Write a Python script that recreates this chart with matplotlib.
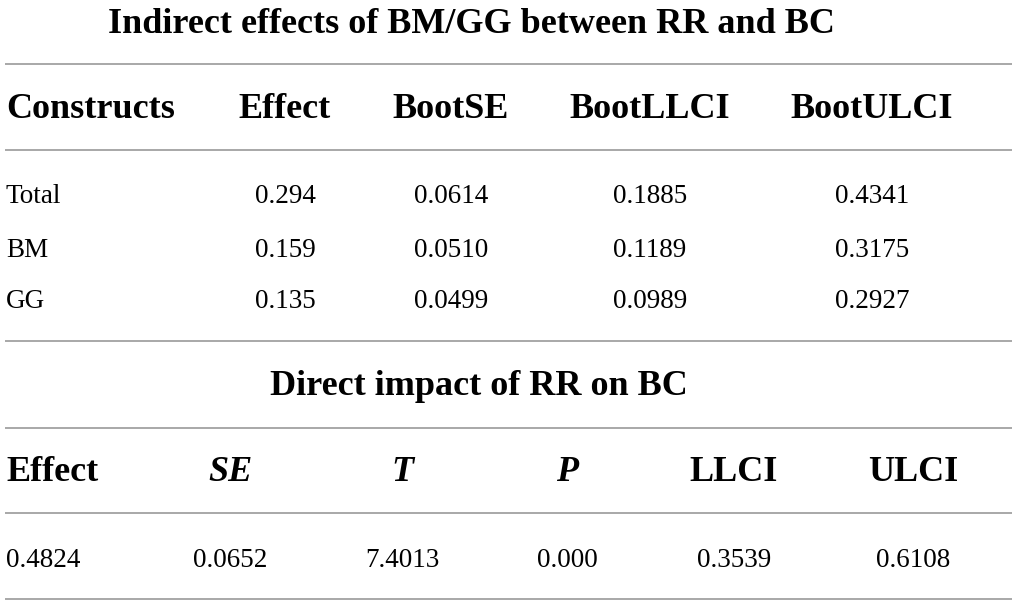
import matplotlib.pyplot as plt

# table 1: indirect effects
title_1 = "Indirect effects of BM/GG between RR and BC"
headers_1 = ["Constructs", "Effect", "BootSE", "BootLLCI", "BootULCI"]
constructs = ["Total", "BM", "GG"]
effect = ["0.294", "0.159", "0.135"]
boot_se = ["0.0614", "0.0510", "0.0499"]
boot_llci = ["0.1885", "0.1189", "0.0989"]
boot_ulci = ["0.4341", "0.3175", "0.2927"]

# table 2: direct impact
title_2 = "Direct impact of RR on BC"
headers_2 = ["Effect", "SE", "T", "P", "LLCI", "ULCI"]
italic_2 = [False, True, True, True, False, False]
direct_row = ["0.4824", "0.0652", "7.4013", "0.000", "0.3539", "0.6108"]

W, H = 1017, 605
fig = plt.figure(figsize=(W / 100, H / 100), dpi=100)
ax = fig.add_axes([0, 0, 1, 1])
ax.set_xlim(0, W)
ax.set_ylim(H, 0)
ax.axis("off")

font = "Liberation Serif"
head_size = 26
body_size = 19.5
line_kw = dict(color="#9a9a9a", linewidth=1.2)

# column layout (pixel x, alignment)
cols_1 = [(6, "left"), (285, "center"), (451, "center"), (650, "center"), (872, "center")]
cols_2 = [(6, "left"), (230, "center"), (402, "center"), (567, "center"), (734, "center"), (913, "center")]

for y in [64, 150, 341, 428, 513, 599]:
    ax.hlines(y, 5, 1012, **line_kw)

ax.text(471, 33, title_1, ha="center", va="baseline", fontsize=head_size,
        fontweight="bold", family=font)
for (x, ha), h in zip(cols_1, headers_1):
    ax.text(x, 118, h, ha=ha, va="baseline", fontsize=head_size,
            fontweight="bold", family=font)

rows_1 = list(zip(constructs, effect, boot_se, boot_llci, boot_ulci))
for y, row in zip([203, 257, 308], rows_1):
    for (x, ha), v in zip(cols_1, row):
        ax.text(x, y, v, ha=ha, va="baseline", fontsize=body_size, family=font)

ax.text(479, 395, title_2, ha="center", va="baseline", fontsize=head_size,
        fontweight="bold", family=font)
for (x, ha), h, it in zip(cols_2, headers_2, italic_2):
    ax.text(x, 481, h, ha=ha, va="baseline", fontsize=head_size,
            fontweight="bold", style="italic" if it else "normal", family=font)
for (x, ha), v in zip(cols_2, direct_row):
    ax.text(x, 567, v, ha=ha, va="baseline", fontsize=body_size, family=font)

fig.savefig("out.png", dpi=100, facecolor="white")
